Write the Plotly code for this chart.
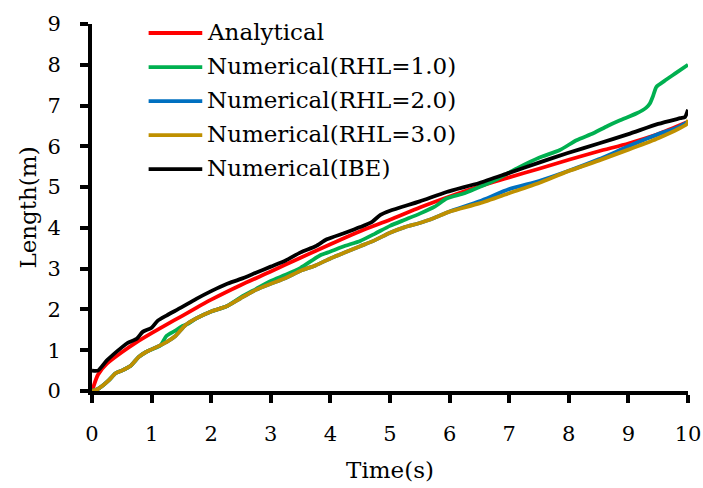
import plotly.graph_objects as go

# Crack length histories, time in seconds, length in metres
t_analytical = [0, 0.1, 0.25, 0.5, 0.75, 1.0, 1.25, 1.5, 1.75, 2.0, 2.5, 3.0, 3.5, 4.0,
                4.5, 5.0, 5.5, 6.0, 6.5, 7.0, 7.5, 8.0, 8.5, 9.0, 9.5, 10.0]
len_analytical = [0.0, 0.4, 0.67, 0.95, 1.2, 1.42, 1.63, 1.83, 2.04, 2.24, 2.6, 2.93, 3.27, 3.6,
                  3.92, 4.2, 4.5, 4.77, 5.02, 5.24, 5.45, 5.67, 5.88, 6.07, 6.3, 6.6]

t_rhl1 = [0, 0.1, 0.28, 0.39, 0.5, 0.65, 0.78, 0.9, 1.0, 1.15, 1.25, 1.4, 1.5, 1.6, 1.75, 2.0,
          2.25, 2.5, 2.75, 3.0, 3.25, 3.5, 3.83, 4.0, 4.25, 4.5, 4.75, 5.0, 5.25, 5.5, 5.75,
          5.95, 6.25, 6.5, 6.8, 7.13, 7.5, 7.85, 8.13, 8.41, 8.65, 8.86, 9.14, 9.3, 9.36,
          9.41, 9.47, 9.6, 9.8, 10.0]
len_rhl1 = [0.0, 0.05, 0.26, 0.43, 0.5, 0.62, 0.83, 0.95, 1.02, 1.12, 1.35, 1.48, 1.58, 1.64,
            1.78, 1.95, 2.07, 2.3, 2.5, 2.7, 2.85, 3.02, 3.33, 3.42, 3.56, 3.68, 3.86, 4.05,
            4.2, 4.35, 4.52, 4.72, 4.85, 5.0, 5.2, 5.46, 5.72, 5.91, 6.15, 6.32, 6.5, 6.64,
            6.81, 6.95, 7.05, 7.22, 7.46, 7.6, 7.8, 8.0]

t_rhl2 = [0, 0.1, 0.28, 0.39, 0.5, 0.65, 0.78, 0.9, 1.0, 1.25, 1.4, 1.57, 1.75, 2.0, 2.25,
          2.5, 2.75, 3.0, 3.25, 3.5, 3.75, 4.0, 4.25, 4.5, 4.75, 5.0, 5.25, 5.5, 5.75, 6.0,
          6.5, 7.0, 7.5, 8.0, 8.5, 9.0, 9.5, 9.8, 10.0]
len_rhl2 = [0.0, 0.05, 0.26, 0.43, 0.5, 0.62, 0.83, 0.95, 1.02, 1.2, 1.35, 1.62, 1.78, 1.95,
            2.07, 2.28, 2.48, 2.63, 2.77, 2.95, 3.08, 3.25, 3.4, 3.55, 3.7, 3.88, 4.02, 4.12,
            4.25, 4.4, 4.65, 4.95, 5.15, 5.4, 5.68, 6.0, 6.3, 6.45, 6.6]

t_rhl3 = [0, 0.1, 0.28, 0.39, 0.5, 0.65, 0.78, 0.9, 1.0, 1.25, 1.4, 1.57, 1.75, 2.0, 2.25,
          2.5, 2.75, 3.0, 3.25, 3.5, 3.75, 4.0, 4.25, 4.5, 4.75, 5.0, 5.25, 5.5, 5.75, 6.0,
          6.5, 7.0, 7.5, 7.97, 8.5, 9.0, 9.5, 9.98, 10.0]
len_rhl3 = [0.0, 0.05, 0.26, 0.43, 0.5, 0.62, 0.83, 0.95, 1.02, 1.2, 1.35, 1.62, 1.78, 1.95,
            2.07, 2.28, 2.48, 2.63, 2.77, 2.95, 3.08, 3.25, 3.4, 3.55, 3.7, 3.88, 4.02, 4.12,
            4.25, 4.4, 4.6, 4.85, 5.1, 5.38, 5.65, 5.92, 6.2, 6.55, 6.65]

t_ibe = [0, 0.1, 0.25, 0.5, 0.6, 0.75, 0.85, 1.0, 1.1, 1.25, 1.5, 1.75, 2.0, 2.25, 2.5, 2.75,
         3.0, 3.25, 3.5, 3.75, 3.94, 4.25, 4.5, 4.7, 4.84, 5.0, 5.5, 5.95, 6.5, 7.0, 7.5,
         7.97, 8.5, 9.0, 9.5, 9.87, 9.95, 10.0]
len_ibe = [0.5, 0.5, 0.75, 1.07, 1.18, 1.28, 1.45, 1.55, 1.72, 1.85, 2.05, 2.26, 2.45, 2.62,
           2.75, 2.9, 3.05, 3.2, 3.4, 3.55, 3.72, 3.88, 4.02, 4.15, 4.32, 4.42, 4.65, 4.88,
           5.1, 5.35, 5.6, 5.83, 6.07, 6.3, 6.55, 6.69, 6.72, 6.9]

series_names = ["Analytical", "Numerical(RHL=1.0)", "Numerical(RHL=2.0)",
                "Numerical(RHL=3.0)", "Numerical(IBE)"]
series_colors = ["#FF0000", "#00B050", "#0070C0", "#BF9000", "#000000"]
series_t = [t_analytical, t_rhl1, t_rhl2, t_rhl3, t_ibe]
series_len = [len_analytical, len_rhl1, len_rhl2, len_rhl3, len_ibe]

x_ticks = list(range(0, 11))
y_ticks = list(range(0, 10))

FONT = "DejaVu Serif"

fig = go.Figure()
for name, color, tx, ly in zip(series_names, series_colors, series_t, series_len):
    fig.add_trace(go.Scatter(
        x=tx, y=ly, mode="lines", name=name,
        line=dict(color=color, width=3.8, shape="spline", smoothing=0.6),
        showlegend=False,
    ))

# Hand-placed key in the upper left of the plot area
key_x0, key_x1, key_tx = 0.095, 0.185, 0.190
key_top, key_step = 0.9755, 0.0928
for i, (name, color) in enumerate(zip(series_names, series_colors)):
    yk = key_top - i * key_step
    fig.add_shape(type="line", xref="paper", yref="paper",
                  x0=key_x0, x1=key_x1, y0=yk, y1=yk,
                  line=dict(color=color, width=3.8))
    fig.add_annotation(xref="paper", yref="paper", x=key_tx, y=yk + 0.004,
                       text=name, showarrow=False, xanchor="left", yanchor="middle",
                       font=dict(family=FONT, size=23, color="#000000"))

axis_common = dict(
    showgrid=False, zeroline=False, showline=True, linecolor="#000000", linewidth=4,
    ticks="outside", ticklen=8, tickwidth=4, tickcolor="#000000", automargin=False,
    tickfont=dict(family=FONT, size=21, color="#000000"),
)

fig.update_xaxes(range=[0, 10], tickvals=x_ticks, ticklabelstandoff=13,
                 title=dict(text="Time(s)", font=dict(family=FONT, size=23, color="#000000"),
                            standoff=18),
                 **axis_common)
fig.update_yaxes(range=[0, 9], tickvals=y_ticks, ticklabelstandoff=15,
                 title=dict(text="Length(m)", font=dict(family=FONT, size=23, color="#000000"),
                            standoff=5),
                 **axis_common)

fig.update_layout(
    width=703, height=488,
    margin=dict(l=92, r=15, t=24, b=97),
    paper_bgcolor="#FFFFFF", plot_bgcolor="#FFFFFF",
    showlegend=False,
)

fig.write_html("out.html")
